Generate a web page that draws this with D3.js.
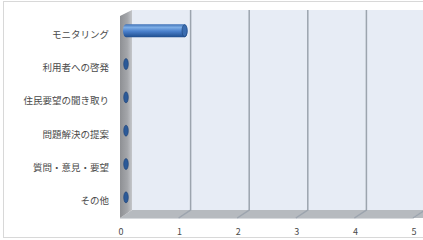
<!DOCTYPE html>
<html lang="ja">
	<head>
		<meta charset="utf-8">
		<title>chart</title>
		<script type="text/javascript" src="https://cdn.jsdelivr.net/npm/d3@7"></script>
		<style type="text/css">
			body{
				margin:0;
				background:#ffffff;
			}
			text{
				font-family:"Noto Sans CJK JP", "Noto Sans", sans-serif;
			}
		</style>
	</head>
	<body>
		<div id="chart"></div>
		<script type="text/javascript">

			var categories = ["モニタリング", "利用者への啓発", "住民要望の聞き取り", "問題解決の提案", "質問・意見・要望", "その他"]
			var values = [1, 0, 0, 0, 0, 0]
			var ticks = [0, 1, 2, 3, 4, 5]

			var w = 423;
			var h = 240;
			var x0 = 120;      // front plane left
			var top0 = 18;     // front plane top
			var bottom0 = 218; // front plane bottom
			var dx = 12;       // depth offset
			var dy = -8;

			var svg = d3.select("#chart")
				.append("svg")
				.attr("width", w)
				.attr("height", h);

			var xScale = d3.scaleLinear()
				.domain([0, 5])
				.range([x0, x0 + 293]);

			var yScale = d3.scaleBand()
				.domain(categories)
				.range([top0, bottom0]);

			var defs = svg.append("defs")

			var wallGrad = defs.append("linearGradient").attr("id", "wallGrad")
				.attr("x1", 0).attr("x2", 1).attr("y1", 0).attr("y2", 0)
			wallGrad.append("stop").attr("offset", "0%").attr("stop-color", "#8e9094")
			wallGrad.append("stop").attr("offset", "60%").attr("stop-color", "#a4a6aa")
			wallGrad.append("stop").attr("offset", "100%").attr("stop-color", "#c4c6ca")

			var barGrad = defs.append("linearGradient").attr("id", "barGrad")
				.attr("x1", 0).attr("x2", 0).attr("y1", 0).attr("y2", 1)
			barGrad.append("stop").attr("offset", "0%").attr("stop-color", "#3d6fb5")
			barGrad.append("stop").attr("offset", "25%").attr("stop-color", "#7eaee6")
			barGrad.append("stop").attr("offset", "55%").attr("stop-color", "#4a80cc")
			barGrad.append("stop").attr("offset", "100%").attr("stop-color", "#1f4e8e")

			// outer border
			svg.append("rect")
				.attr("x", 3.5)
				.attr("y", 1.5)
				.attr("width", 440)
				.attr("height", 236)
				.attr("fill", "none")
				.attr("stroke", "#d8d8d8")

			// back wall
			svg.append("rect")
				.attr("x", x0 + dx)
				.attr("y", top0 + dy)
				.attr("width", w - x0 - dx)
				.attr("height", bottom0 - top0)
				.attr("fill", "#e7ecf5")

			// floor
			var xMax = xScale(5)
			svg.append("path")
				.attr("d", "M" + x0 + "," + bottom0 + " L" + (x0 + dx) + "," + (bottom0 + dy) +
					" L" + (xMax + dx + 20) + "," + (bottom0 + dy) + " L" + (xMax + 20) + "," + bottom0 +
					" L" + xMax + "," + bottom0 + " Z")
				.attr("fill", "#b6babf")
			svg.append("line")
				.attr("x1", x0).attr("x2", xMax)
				.attr("y1", bottom0 + 0.5).attr("y2", bottom0 + 0.5)
				.attr("stroke", "#d6d9dd")
			svg.append("line")
				.attr("x1", xMax).attr("x2", xMax + dx)
				.attr("y1", bottom0).attr("y2", bottom0 + dy)
				.attr("stroke", "#d6d9dd")

			// gridlines on back wall and floor
			svg.selectAll(".grid")
				.data(ticks.filter(function(d){ return d > 0 }))
				.enter()
				.append("path")
				.attr("class", "grid")
				.attr("d", function(d){
					var gx = xScale(d) + dx
					return "M" + gx + "," + (top0 + dy) + " L" + gx + "," + (bottom0 + dy) +
						" L" + (gx - dx) + "," + bottom0
				})
				.attr("fill", "none")
				.attr("stroke", "#9ca4ae")
				.attr("stroke-width", 1.5)

			// left wall
			svg.append("path")
				.attr("d", "M" + x0 + "," + (top0 - 2) + " L" + (x0 + dx) + "," + (top0 + dy) +
					" L" + (x0 + dx) + "," + (bottom0 + dy) + " L" + x0 + "," + bottom0 + " Z")
				.attr("fill", "url(#wallGrad)")

			// bars (cylinders at mid depth)
			var bh = 13
			var bars = svg.selectAll(".bar")
				.data(values)
				.enter()
				.append("g")
				.attr("class", "bar")
				.attr("transform", function(d, i){
					var cy = yScale(categories[i]) + yScale.bandwidth() / 2 + dy / 2
					return "translate(" + (dx / 2) + "," + cy + ")"
				})

			bars.append("path")
				.attr("d", function(d){
					var a = xScale(0), b = xScale(d)
					if(d == 0){ return "" }
					return "M" + a + "," + (-bh / 2) + " L" + b + "," + (-bh / 2) +
						" A3," + (bh / 2) + " 0 0 1 " + b + "," + (bh / 2) +
						" L" + a + "," + (bh / 2) +
						" A3," + (bh / 2) + " 0 0 1 " + a + "," + (-bh / 2) + " Z"
				})
				.attr("fill", "url(#barGrad)")

			bars.append("ellipse")
				.attr("cx", function(d){ return xScale(d) })
				.attr("cy", 0)
				.attr("rx", function(d){ return d == 0 ? 2.3 : 2.6 })
				.attr("ry", function(d){ return d == 0 ? 5.5 : bh / 2 - 0.5 })
				.attr("fill", function(d){ return d == 0 ? "#2c5a98" : "#3a6cb0" })
				.attr("stroke", "#1c4276")
				.attr("stroke-width", 0.6)

			// category labels
			svg.selectAll(".cat")
				.data(categories)
				.enter()
				.append("text")
				.attr("class", "cat")
				.text(function(d){ return d })
				.attr("x", 109)
				.attr("y", function(d){ return yScale(d) + yScale.bandwidth() / 2 + 3 })
				.attr("text-anchor", "end")
				.attr("font-size", "9.5px")
				.attr("fill", "#4a4a4a")

			// value axis labels
			svg.selectAll(".tick")
				.data(ticks)
				.enter()
				.append("text")
				.attr("class", "tick")
				.text(function(d){ return d })
				.attr("x", function(d){ return xScale(d) + 1 })
				.attr("y", 235)
				.attr("text-anchor", "middle")
				.attr("font-size", "9px")
				.attr("fill", "#4a4a4a")

		</script>
	</body>
</html>
